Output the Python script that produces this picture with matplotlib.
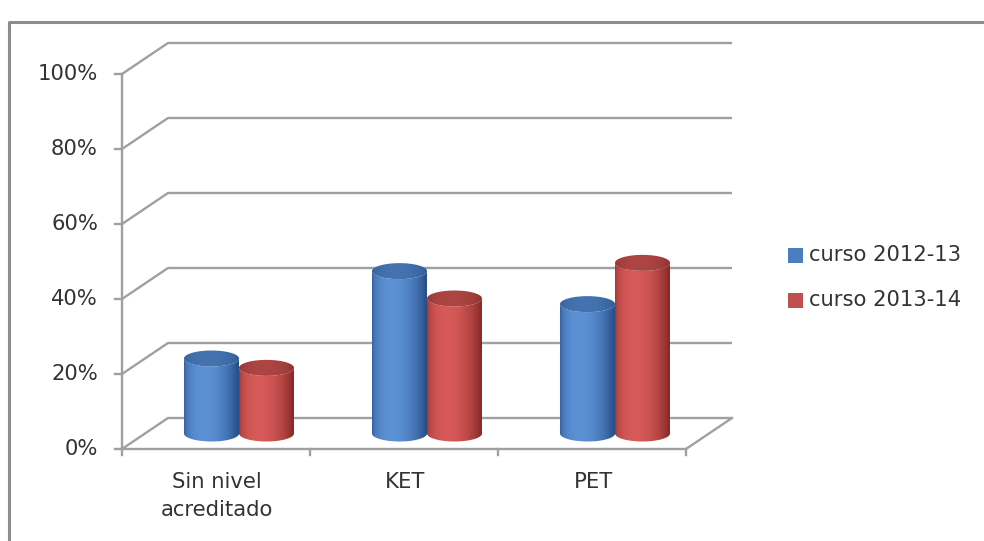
import numpy as np
import matplotlib
matplotlib.use("Agg")
import matplotlib.pyplot as plt
from matplotlib.patches import Rectangle, PathPatch
from matplotlib.path import Path
from matplotlib.colors import to_rgb

# ---- data ----
categories = ["Sin nivel\nacreditado", "KET", "PET"]
series_names = ["curso 2012-13", "curso 2013-14"]
values_2012_13 = [20.0, 43.3, 34.5]
values_2013_14 = [17.5, 36.0, 45.5]
y_ticks = [0, 20, 40, 60, 80, 100]
y_tick_labels = ["0%", "20%", "40%", "60%", "80%", "100%"]

series_values = [values_2012_13, values_2013_14]
body_dark = ["#27508a", "#8a2b29"]
body_light = ["#5c91d5", "#d65a58"]
top_dark = ["#2f5a92", "#8a302e"]
top_light = ["#4473b0", "#ad4543"]
legend_colors = ["#4a7ebf", "#c0504d"]

W, H = 984, 541
fig = plt.figure(figsize=(W / 100, H / 100), dpi=100)
fig.patch.set_facecolor("white")

# pixel canvas (y up) for the pseudo-3D drawing
cv = fig.add_axes([0, 0, 1, 1])
cv.axis("off")

# front plane of the chart: categories on x, percentage on y
ax = fig.add_axes([122 / W, (H - 449) / H, (686 - 122) / W, (449 - 74) / H])
ax.set_xlim(-0.5, len(categories) - 0.5)
ax.set_ylim(0, 100)
ax.axis("off")

DEPTH = np.array([46.0, 31.0])  # offset of the back wall in pixels
GRID = "#a0a0a0"
TEXT = "#333333"
FONT = "DejaVu Sans"
FS = 15.2


def pt(x, v, d=0.0):
    """Front-plane data point -> canvas pixels, pushed back by depth fraction d."""
    return ax.transData.transform((x, v)) + d * DEPTH


x_lo, x_hi = -0.5, len(categories) - 0.5

# walls: gridlines run diagonally back, then across the back wall
for t, lab in zip(y_ticks, y_tick_labels):
    f0 = pt(x_lo, t)
    b0 = pt(x_lo, t, 1)
    b1 = pt(x_hi, t, 1)
    cv.plot([f0[0], b0[0], b1[0]], [f0[1], b0[1], b1[1]],
            color=GRID, lw=1.7, solid_capstyle="butt", zorder=1)
    cv.plot([f0[0] - 7, f0[0]], [f0[1], f0[1]], color=GRID, lw=1.7, zorder=1)
    cv.text(f0[0] - 24, f0[1], lab, ha="right", va="center",
            fontsize=FS, color=TEXT, family=FONT)

# floor front and right edges
f0, f1, b1 = pt(x_lo, 0), pt(x_hi, 0), pt(x_hi, 0, 1)
cv.plot([f0[0], f1[0], b1[0]], [f0[1], f1[1], b1[1]], color=GRID, lw=1.7, zorder=1)
# value axis line
top = pt(x_lo, 100)
cv.plot([f0[0], top[0]], [f0[1], top[1]], color=GRID, lw=1.7, zorder=1)

# category ticks and labels
for b in np.arange(x_lo, x_hi + 0.01, 1.0):
    p = pt(b, 0)
    cv.plot([p[0], p[0]], [p[1], p[1] - 6], color=GRID, lw=1.7, zorder=1)
for i, lab in enumerate(categories):
    p = pt(i, 0)
    cv.text(p[0] + 1, p[1] - 23, lab, ha="center", va="top", fontsize=FS,
            color=TEXT, family=FONT, linespacing=1.5)


def shade_row(dark, light, n=200, phi_light=1.85, gamma=1.3):
    dark, light = np.array(to_rgb(dark)), np.array(to_rgb(light))
    u = np.linspace(-1, 1, n)
    phi = np.arccos(u)
    inten = np.clip(np.cos(phi - phi_light), 0, 1) ** gamma
    return (dark[None, :] + (light - dark)[None, :] * inten[:, None])[None, :, :]


def cylinder(cx, base_y, top_y, r, b, s):
    t = np.linspace(np.pi, 2 * np.pi, 60)  # lower (front) half of an ellipse
    bottom = np.column_stack([cx + r * np.cos(t), base_y + b * np.sin(t)])
    upper = np.column_stack([cx + r * np.cos(t[::-1]), top_y + b * np.sin(t[::-1])])
    verts = np.vstack([bottom, upper, bottom[:1]])
    codes = [Path.MOVETO] + [Path.LINETO] * (len(verts) - 2) + [Path.CLOSEPOLY]
    body = PathPatch(Path(verts, codes), facecolor="none", edgecolor="none")
    cv.add_patch(body)
    im = cv.imshow(shade_row(body_dark[s], body_light[s]), aspect="auto",
                   extent=[cx - r, cx + r, base_y - b - 1, top_y + b + 1],
                   interpolation="bilinear", zorder=3)
    im.set_clip_path(body)

    e = np.linspace(0, 2 * np.pi, 120)
    ev = np.column_stack([cx + r * np.cos(e), top_y + b * np.sin(e)])
    lid = PathPatch(Path(ev, closed=True), facecolor="none", edgecolor="none")
    cv.add_patch(lid)
    im2 = cv.imshow(shade_row(top_dark[s], top_light[s], phi_light=1.7, gamma=1.0),
                    aspect="auto", extent=[cx - r, cx + r, top_y - b - 1, top_y + b + 1],
                    interpolation="bilinear", zorder=4)
    im2.set_clip_path(lid)


R, B = 27.5, 8.0
BAR_DEPTH = 0.5
for i in range(len(categories)):
    for s, vals in enumerate(series_values):
        base = pt(i, 0, BAR_DEPTH)
        tip = pt(i, vals[i], BAR_DEPTH)
        cx = base[0] + (s - 0.5) * 2 * R
        cylinder(cx, base[1], tip[1], R, B, s)

# legend
for s, name in enumerate(series_names):
    yc = H - (255 + 45 * s)
    cv.add_patch(Rectangle((788, yc - 7.5), 15, 15, facecolor=legend_colors[s],
                           edgecolor="none", zorder=5))
    cv.text(809, yc, name, ha="left", va="center", fontsize=FS,
            color=TEXT, family=FONT)

# chart frame
cv.plot([9, 9, W + 5], [-5, H - 22, H - 22], color="#8c8c8c", lw=2.2, zorder=6)

cv.set_xlim(0, W)
cv.set_ylim(0, H)

fig.savefig("out.png", dpi=100, facecolor="white")
